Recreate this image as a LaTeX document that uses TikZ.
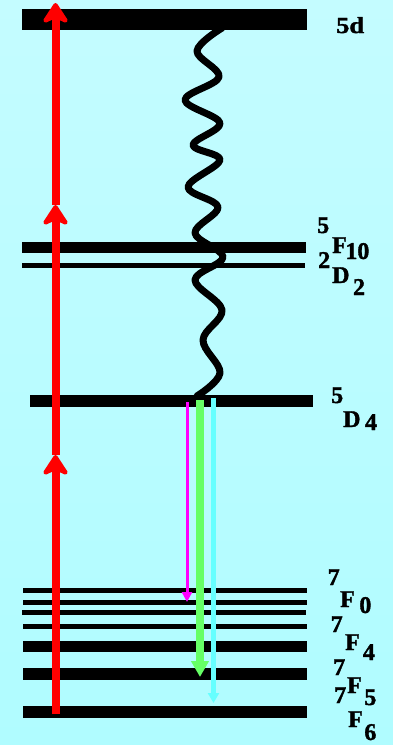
\documentclass[tikz,border=0pt]{standalone}
\usepackage{fontspec}
\setmainfont{Liberation Serif}[BoldFeatures={FakeBold=1.5}]
\usetikzlibrary{arrows.meta}
\definecolor{bgtop}{RGB}{196,252,255}
\definecolor{bgmid}{RGB}{248,255,255}
\definecolor{bgbot}{RGB}{176,252,255}
\definecolor{grn}{RGB}{102,255,102}
\definecolor{cyn}{RGB}{102,255,255}
\definecolor{mag}{RGB}{255,0,255}
\definecolor{pumpred}{RGB}{255,0,0}
\newcommand\lvl[5]{\node[level,minimum width={(#3)-(#2)},minimum height={(#5)-(#4)}] (#1) at ({((#2)+(#3))/2},{((#4)+(#5))/2}) {};}
\begin{document}
\begin{tikzpicture}[x=1pt,y=-1pt,
  level/.style={fill=black,draw=none,inner sep=0pt,outer sep=0pt,rectangle},
  lbl/.style={anchor=base west,inner sep=0pt,font=\bfseries\fontsize{24}{24}\selectfont},
  pump/.style={draw=pumpred,line width=8pt,-{Stealth[length=24pt,width=31pt,inset=7pt,round]}},
  wave/.style={draw=black,line width=7pt,line cap=round,line join=round},
  emit/.style={line width=#1}]
\useasboundingbox (0,0) rectangle (393,745);
\begin{scope}[y=1pt]
\shade[top color=bgtop,middle color=bgmid,bottom color=bgbot] (0,0) rectangle (393,-745);
\end{scope}
% levels
\lvl{L5d}{22}{307}{9}{30}
\lvl{L5F}{22}{306}{242}{253}
\lvl{L2D}{22}{305}{263}{268}
\lvl{L5D}{30}{313}{395}{407}
\lvl{La}{23}{307}{588}{593}
\lvl{Lb}{23}{307}{600}{605}
\lvl{Lc}{22}{306}{610}{615}
\lvl{Ld}{23}{307}{624}{629}
\lvl{Le}{23}{307}{641}{652}
\lvl{Lf}{23}{307}{668}{680}
\lvl{Lg}{23}{307}{706}{718}
% wavy non-radiative relaxation
\draw[wave] plot[smooth,tension=0.6] coordinates {(222,28) (197,51) (219,77) (185,100) (220,123) (193,145) (220,160) (188,187) (218,207) (195,233) (223,257) (195,280) (222,310) (203,340) (220,373) (197,396)};
% pump arrows
\coordinate (r0) at (55.5,714);
\coordinate (r1) at (55.5,455);
\coordinate (r2) at (55.5,205);
\coordinate (r3) at (55.5,3);
\draw[pump] (r0) -- (r1);
\draw[pump] (r1) -- (r2);
\draw[pump] (r2) -- (r3);
% emission arrows
\coordinate (m0) at (187,402);
\coordinate (m1) at (187,602);
\coordinate (g0) at (200,400);
\coordinate (g1) at (200,677);
\coordinate (c0) at (213.5,398);
\coordinate (c1) at (213.5,703);
\draw[emit=3pt,draw=mag,-{Triangle[length=10pt,width=10pt]}] (m0) -- (m1);
\draw[emit=8pt,draw=grn,-{Triangle[length=16pt,width=17pt]}] (g0) -- (g1);
\draw[emit=4.5pt,draw=cyn,-{Triangle[length=10pt,width=11pt]}] (c0) -- (c1);
% labels
\node[lbl,font=\bfseries\fontsize{23}{23}\selectfont,xscale=1.15] (t5d) at (336,33) {5d};
\node[lbl] (t5F) at (332,253) {\llap{\raisebox{20pt}{5}\kern3pt}F\kern-1.5pt\raisebox{-6pt}{10}};
\node[lbl] (t2D) at (332,283) {\llap{\raisebox{15pt}{2}\kern2pt}D\kern3.5pt\raisebox{-12pt}{2}};
\node[lbl] (t5D) at (343,427) {\llap{\raisebox{24pt}{5}\kern0pt}D\kern4.5pt\raisebox{-3pt}{4}};
\node[lbl] (t7F0) at (340,607) {\llap{\raisebox{22pt}{7}\kern0.5pt}F\kern4.5pt\raisebox{-6pt}{0}};
\node[lbl] (t7F4) at (345,650) {\llap{\raisebox{18pt}{7}\kern2.5pt}F\kern3pt\raisebox{-10pt}{4}};
\node[lbl] (t7F5) at (347,693) {\llap{\raisebox{18pt}{7}\kern2pt}F\kern2.5pt\raisebox{-12pt}{5}};
\node[lbl] (t7F6) at (348,727) {\llap{\raisebox{24pt}{7}\kern2pt}F\kern1.5pt\raisebox{-13pt}{6}};
\end{tikzpicture}
\end{document}
